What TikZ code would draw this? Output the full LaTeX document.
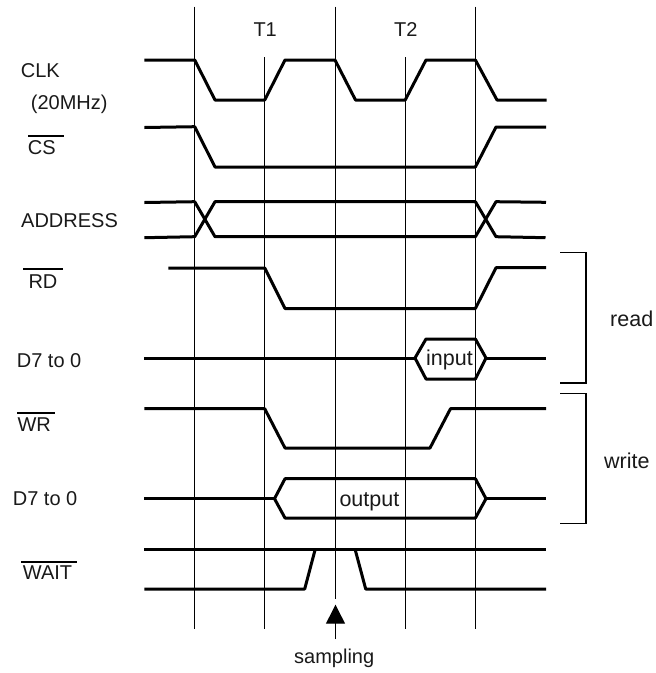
\documentclass[tikz,border=0pt]{standalone}
\usepackage{fontspec}
\setmainfont{Liberation Sans}
\usetikzlibrary{arrows.meta}

\begin{document}
\begin{tikzpicture}[x=1pt, y=-1pt,
    signal/.style={line width=3pt, line join=round},
    gridline/.style={line width=1.3pt},
    brace/.style={line width=1.2pt},
    overbar/.style={line width=1.3pt},
    lbl/.style={anchor=base west, inner sep=0pt, text=black!90, font=\fontsize{20}{24}\selectfont},
    lblwide/.style={lbl, font=\fontsize{21.5}{24}\selectfont}]
  \useasboundingbox (0,0) rectangle (656,673);

  \coordinate (tip) at (335.5,604.7);
  \coordinate (tail) at (335.5,639);

  % clock edges
  \draw[gridline] (194.5,6.5)--(194.5,629);
  \draw[gridline] (264.5,57)--(264.5,629);
  \draw[gridline] (335.5,6.5)--(335.5,599);
  \draw[gridline] (405.5,57)--(405.5,629);
  \draw[gridline] (475.5,6.5)--(475.5,629);

  % signals
  \draw[signal] (144.3,60)--(194.7,60)--(215,100)--(264.7,100)--(285,60)--(335,60)--(355.5,100)--(405.2,100)--(426,60)--(475.4,60)--(497,100)--(546.5,100);
  \draw[signal] (144.3,127.5)--(194.7,126.7)--(215,167)--(475.4,167)--(496,127)--(546,127);

  \draw[signal] (144.3,202.5)--(194.7,201.7)--(215,236.7)--(475.4,236.7)--(496,201.7)--(546,202.3);
  \draw[signal] (144.3,237.7)--(194.7,236.7)--(215,201.7)--(475.4,201.7)--(496,236.7)--(545.5,237.7);

  \draw[signal] (168.3,268)--(264.7,268)--(285,308.5)--(475.4,308.5)--(496,267.7)--(546,267.7);

  % read data
  \draw[signal] (144.3,358)--(415,358);
  \draw[signal] (415,358)--(426,339)--(475.4,339)--(486,358)--(475.4,379)--(426,379)--cycle;
  \draw[signal] (486,358)--(546,358);

  \draw[signal] (144.3,408.7)--(264.7,408.7)--(285,448)--(430,448)--(450.5,408.7)--(546,408.7);

  % write data
  \draw[signal] (144.3,498.7)--(274.5,498.7);
  \draw[signal] (274.5,498.7)--(285,478.7)--(475.4,478.7)--(486,498.7)--(475.4,518)--(285,518)--cycle;
  \draw[signal] (486,498.7)--(546,498.7);

  \draw[signal] (144.3,549)--(546,549);
  \draw[signal] (144.3,589)--(304.7,589)--(315.3,549);
  \draw[signal] (355,549)--(365.7,589)--(546,589);

  % brackets
  \draw[brace] (560,252.7)--(586,252.7)--(586,383)--(560,383);
  \draw[brace] (560,393.7)--(586,393.7)--(586,523.7)--(560,523.7);

  \draw[gridline, -{Triangle[width=19pt,length=19pt]}] (tail)--(tip);

  \node[lbl] (T1) at (253.3,36) {T1};
  \node[lbl] (T2) at (394,36) {T2};

  \node[lbl] (CLK) at (20.7,77.3) {CLK};
  \node[lbl] (MHz) at (30.7,109.3) {(20MHz)};
  \node[lbl] (CS) at (27.7,154) {CS};
  \node[lbl] (ADDR) at (21,227.7) {ADDRESS};
  \node[lbl] (RD) at (28.3,288.7) {RD};
  \node[lbl] (DR) at (16.7,367) {D7 to 0};
  \node[lbl] (WR) at (17.3,431.7) {WR};
  \node[lbl] (DW) at (12.7,505.7) {D7 to 0};
  \node[lbl] (WAIT) at (22.7,579.7) {WAIT};

  \draw[overbar] (28,136)--(63.7,136);
  \draw[overbar] (23.3,269)--(63.3,269);
  \draw[overbar] (17.3,413)--(54.7,413);
  \draw[overbar] (21.3,562)--(77,562);

  \node[lblwide] (input) at (426,365.3) {input};
  \node[lblwide] (output) at (339.3,506.3) {output};
  \node[lblwide] (read) at (610,326.7) {read};
  \node[lblwide] (write) at (604,468) {write};
  \node[lbl] (sampling) at (294,663) {sampling};
\end{tikzpicture}
\end{document}
